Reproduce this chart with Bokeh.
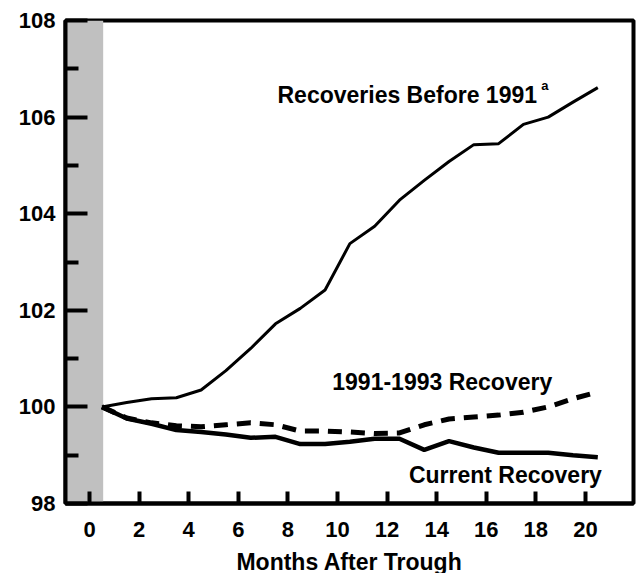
from bokeh.plotting import figure
from bokeh.models import Range1d, FixedTicker, BoxAnnotation, Label, ColumnDataSource
from bokeh.embed import file_html
from bokeh.resources import INLINE

# Data
months = list(range(21))
before_1991 = [100.0, 100.09, 100.17, 100.19, 100.35, 100.75, 101.21, 101.72, 102.04, 102.42,
               103.38, 103.74, 104.28, 104.69, 105.08, 105.43, 105.45, 105.85, 106.0, 106.31, 106.61]
rec_1991_1993 = [100.0, 99.77, 99.67, 99.61, 99.59, 99.63, 99.67, 99.63, 99.50, 99.50,
                 99.48, 99.45, 99.46, 99.63, 99.75, 99.79, 99.83, 99.89, 100.0, 100.17, 100.31]
current = [100.0, 99.76, 99.65, 99.52, 99.48, 99.43, 99.36, 99.38, 99.23, 99.23,
           99.28, 99.34, 99.34, 99.11, 99.29, 99.16, 99.05, 99.05, 99.05, 99.0, 98.96]
x_ticks = [0, 2, 4, 6, 8, 10, 12, 14, 16, 18, 20]
y_ticks = [98, 100, 102, 104, 106, 108]
y_minor = [99, 101, 103, 105, 107]
trough_end = 0.55
point_offset = 0.5

xs = [m + point_offset for m in months]
src = ColumnDataSource(dict(x=xs, before=before_1991, r9193=rec_1991_1993, cur=current))

FONT = "Liberation Sans"

p = figure(frame_width=568, frame_height=483, output_backend="svg", toolbar_location=None,
           x_range=Range1d(-0.97, 21.94), y_range=Range1d(98, 108),
           min_border_left=65, min_border_right=3, min_border_top=20, min_border_bottom=5)
p.grid.visible = False
p.background_fill_color = "white"
p.border_fill_color = "white"
p.outline_line_color = "black"
p.outline_line_width = 4

p.add_layout(BoxAnnotation(left=-0.97, right=trough_end, fill_color="#c0c0c0", fill_alpha=1.0,
                           line_alpha=0, level="underlay"))

p.line("x", "before", source=src, line_color="black", line_width=3)
p.line("x", "r9193", source=src, line_color="black", line_width=5, line_dash="14 9")
p.line("x", "cur", source=src, line_color="black", line_width=4.5)

for ax in (p.xaxis[0], p.yaxis[0]):
    ax.axis_line_width = 4
    ax.axis_line_color = "black"
    ax.major_tick_line_width = 4
    ax.major_tick_line_color = "black"
    ax.minor_tick_line_width = 4
    ax.minor_tick_line_color = "black"
    ax.major_tick_out = 0
    ax.minor_tick_out = 0
    ax.major_label_text_font = FONT
    ax.major_label_text_font_style = "bold"
    ax.major_label_text_font_size = "22px"
    ax.major_label_text_color = "black"

p.yaxis.ticker = FixedTicker(ticks=y_ticks, minor_ticks=y_minor)
p.yaxis.major_tick_in = 22
p.yaxis.minor_tick_in = 13
p.yaxis.major_label_standoff = 10

p.xaxis.ticker = FixedTicker(ticks=x_ticks, minor_ticks=[])
p.xaxis.major_tick_in = 12
p.xaxis.major_label_standoff = 18
p.xaxis.axis_label = "Months After Trough"
p.xaxis.axis_label_text_font = FONT
p.xaxis.axis_label_text_font_style = "bold"
p.xaxis.axis_label_text_font_size = "23px"
p.xaxis.axis_label_text_color = "black"
p.xaxis.axis_label_standoff = 9

def lab(x, y, t, size="23px"):
    p.add_layout(Label(x=x, y=y, text=t, text_font=FONT, text_font_style="bold",
                       text_font_size=size, text_color="black", text_baseline="middle",
                       text_align="left"))

lab(7.58, 106.46, "Recoveries Before 1991")
lab(18.22, 106.66, "a", "13px")
lab(9.79, 100.52, "1991-1993 Recovery")
lab(12.88, 98.59, "Current Recovery")

open("out.html", "w").write(file_html(p, INLINE))
